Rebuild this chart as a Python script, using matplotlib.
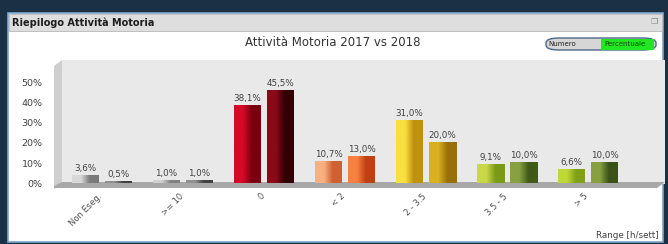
import numpy as np
import matplotlib
matplotlib.use('Agg')
import matplotlib.pyplot as plt
from matplotlib.patches import Rectangle, Polygon, FancyBboxPatch
from matplotlib.colors import LinearSegmentedColormap
from matplotlib.transforms import ScaledTranslation

# ################## data
categories = ['Non Eseg.', '>= 10', '0', '< 2', '2 - 3.5', '3.5 - 5', '> 5']
values_2017 = [3.6, 1.0, 38.1, 10.7, 31.0, 9.1, 6.6]
values_2018 = [0.5, 1.0, 45.5, 13.0, 20.0, 10.0, 10.0]
y_ticks = [0, 10, 20, 30, 40, 50]
# bar colours (light, dark) for each category, 2017 / 2018
colors_2017 = [('#d8d8d8', '#7a7a7a'), ('#d0d0d0', '#808080'), ('#d40a26', '#7a0010'),
               ('#f8b080', '#d06030'), ('#f8e040', '#c09010'), ('#c8d848', '#7a9a18'),
               ('#c0d838', '#80a018')]
colors_2018 = [('#909090', '#404040'), ('#909090', '#404040'), ('#8a0a18', '#300004'),
               ('#f88040', '#c04010'), ('#d8b020', '#987008'), ('#88a040', '#405a18'),
               ('#88a040', '#3a5218')]

W, H = 668, 244
fig = plt.figure(figsize=(W / 100, H / 100), dpi=100)
fig.patch.set_facecolor('#1b2f45')


def px(x, y):
    return (x / W, 1 - y / H)


def fig_rect(x0, y0, x1, y1, **kw):
    fig.patches.append(Rectangle(px(x0, y1), (x1 - x0) / W, (y1 - y0) / H,
                                 transform=fig.transFigure, **kw))


def fig_poly(points, **kw):
    fig.patches.append(Polygon([px(x, y) for x, y in points], closed=True,
                               transform=fig.transFigure, **kw))


# panel + header
fig_rect(8, 13, 663, 242, facecolor='white', edgecolor='#7fa6cc', linewidth=1.2)
fig_rect(9, 14, 662, 31, facecolor='#dedede', edgecolor='#b8b8b8', linewidth=0.6)
fig.text(*px(12, 22.5), 'Riepilogo Attività Motoria', fontsize=7, fontweight='bold',
         color='#1e1e1e', va='center', ha='left')
fig.text(*px(654, 22), '\u2752', fontsize=6, color='#888888', va='center', ha='center')

# title
fig.text(*px(333, 43), 'Attività Motoria 2017 vs 2018', fontsize=8.5, color='#333333',
         ha='center', va='center')

# toggle
fig.patches.append(FancyBboxPatch(px(546, 50), 110 / W, 12 / H,
                                  boxstyle='round,pad=0,rounding_size=0.02',
                                  transform=fig.transFigure, facecolor='#d6d6d6',
                                  edgecolor='#4a6a8a', linewidth=1))
fig_rect(601, 38.5, 654, 49.5, facecolor='#22e622', edgecolor='none')
fig.text(*px(548, 44), 'Numero', fontsize=5, color='#222222', va='center', ha='left')
fig.text(*px(604, 44), 'Percentuale', fontsize=5, color='#0a4a0a', va='center', ha='left')

# 3D wall and floor
fig_rect(62, 60, 665, 184, facecolor='#e9e9e9', edgecolor='none')
fig_poly([(54, 66), (62, 60), (62, 184), (54, 189)], facecolor='#cfcfcf', edgecolor='none')
fig_poly([(54, 186), (62, 182), (665, 182), (657, 188), (54, 188)],
         facecolor='#a8a8a8', edgecolor='none')

# axes for the bars
ax = fig.add_axes([62 / W, 1 - 183.5 / H, (665 - 62) / W, (183.5 - 62) / H])
ax.set_zorder(5)
ax.patch.set_alpha(0)
for s in ax.spines.values():
    s.set_visible(False)
x = np.arange(len(categories))
# group centre i at 102 + 81*i px
bw = 27 / 81
off = 16.5 / 81


def gradient_bar(xc, h, light, dark):
    cmap = LinearSegmentedColormap.from_list('b', [light, light, dark, dark])
    grad = np.linspace(0, 1, 64).reshape(1, -1)
    hh = max(h, 0.8)
    ax.imshow(grad, cmap=cmap, extent=[xc - bw / 2, xc + bw / 2, 0, hh],
              aspect='auto', origin='lower', zorder=3)


for i in range(len(categories)):
    gradient_bar(x[i] - off, values_2017[i], *colors_2017[i])
    gradient_bar(x[i] + off, values_2018[i], *colors_2018[i])
    for xc, v in [(x[i] - off, values_2017[i]), (x[i] + off, values_2018[i])]:
        ax.text(xc, max(v, 0.8) + 1.5, ('%.1f%%' % v).replace('.', ','), fontsize=6.3,
                color='#404040', ha='center', va='bottom', zorder=4)

ax.set_xlim((62 - 102) / 81, (665 - 102) / 81)
ax.set_ylim(0, 60)
ax.set_yticks(y_ticks)
ax.set_yticklabels(['%d%%' % t for t in y_ticks], fontsize=6.8, color='#404040')
ax.tick_params(axis='y', length=0, pad=14)
ax.set_xticks(x)
ax.set_xticklabels(categories, rotation=45, ha='right', rotation_mode='anchor',
                   fontsize=6, color='#505050')
ax.tick_params(axis='x', length=0, pad=6)
shift = ScaledTranslation(-4 / 100, 0, fig.dpi_scale_trans)
for lbl in ax.get_xticklabels():
    lbl.set_transform(lbl.get_transform() + shift)

fig.text(*px(659, 236), 'Range [h/sett]', fontsize=6.3, color='#404040',
         ha='right', va='center')

fig.savefig('out.png', dpi=100, facecolor=fig.get_facecolor())
